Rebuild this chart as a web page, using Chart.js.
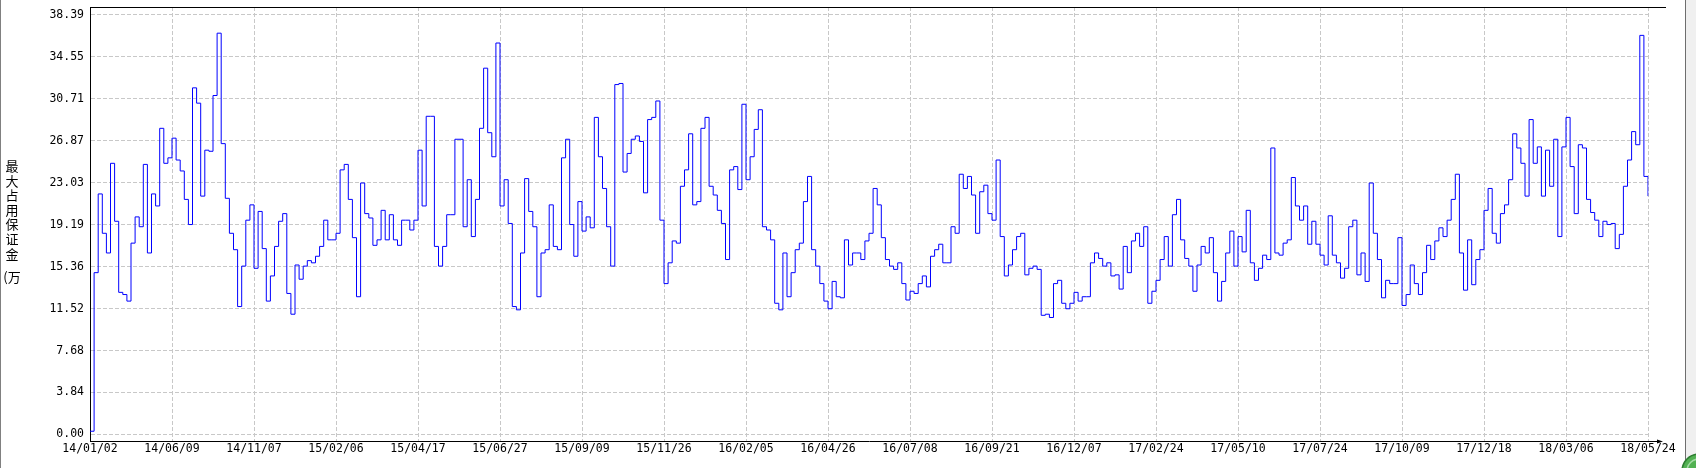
<!DOCTYPE html>
<html>
<head>
<meta charset="utf-8">
<script src="https://cdn.jsdelivr.net/npm/chart.js"></script>
<style>
html, body { margin: 0; padding: 0; background: #fff; }
#wrap { position: relative; width: 1696px; height: 468px; }
</style>
</head>
<body>
<div id="wrap"><canvas id="myLine"></canvas></div>
<script>
// x tick labels, one every 20 points
var xTickLabels = ['14/01/02', '14/06/09', '14/11/07', '15/02/06', '15/04/17', '15/06/27', '15/09/09',
    '15/11/26', '16/02/05', '16/04/26', '16/07/08', '16/09/21', '16/12/07', '17/02/24', '17/05/10',
    '17/07/24', '17/10/09', '17/12/18', '18/03/06', '18/05/24'];
var labelEvery = 20;

var yTickLabels = ['0.00', '3.84', '7.68', '11.52', '15.36', '19.19', '23.03', '26.87', '30.71', '34.55', '38.39'];

var yTitle = '最大占用保证金(万';

// max margin used (10k)
var margin = [
    0.3, 14.8, 22.0, 18.4, 16.6, 24.8, 19.5, 13.0, 12.8, 12.2,
    17.5, 19.9, 19.0, 24.7, 16.6, 22.0, 20.9, 28.0, 24.8, 25.3,
    27.1, 25.1, 24.1, 21.5, 19.2, 31.7, 30.3, 21.8, 26.0, 25.9,
    31.0, 36.7, 26.6, 21.6, 18.4, 16.9, 11.7, 15.4, 19.6, 21.0,
    15.2, 20.4, 17.0, 12.2, 14.5, 17.2, 19.5, 20.2, 12.9, 11.0,
    15.5, 14.2, 15.4, 15.9, 15.7, 16.3, 17.2, 19.6, 17.8, 17.8,
    18.4, 24.2, 24.7, 21.5,
    18.0, 12.6, 23.0, 20.2, 19.8, 17.3, 17.8, 20.5, 17.8, 20.1,
    17.8, 17.3, 19.6, 19.6, 18.7, 19.6, 26.0, 20.9, 29.1, 29.1,
    17.2, 15.4, 17.2, 20.1, 20.1, 27.0, 27.0, 19.0, 23.3, 18.1,
    21.5, 28.0, 33.5, 27.6, 25.4, 35.8, 20.9, 23.3, 19.3, 11.7,
    11.4, 16.6, 23.4, 20.4, 19.0, 12.6, 16.6, 16.9, 21.0, 17.2,
    16.9, 25.3, 27.0, 19.2, 16.3, 21.3, 18.6, 19.9, 18.9, 29.0,
    25.4, 22.5, 19.0, 15.4,
    32.0, 32.1, 24.0, 25.7, 27.0, 27.3, 26.8, 22.1, 28.8, 29.0,
    30.5, 19.6, 13.8, 15.7, 17.7, 17.5, 22.7, 24.2, 27.5, 21.0,
    21.3, 28.0, 29.0, 22.7, 21.9, 20.5, 19.3, 16.0, 24.2, 24.5,
    22.4, 30.2, 23.3, 25.4, 27.9, 29.7, 19.0, 18.7, 17.8, 12.0,
    11.4, 16.6, 12.6, 14.8, 16.9, 17.5, 21.3, 23.6, 16.9, 15.4,
    13.8, 12.2, 11.5, 14.0, 12.6, 12.5, 17.8, 15.5, 16.6, 16.6,
    16.0, 17.7, 18.4, 22.5,
    21.0, 18.0, 16.0, 15.4, 15.1, 15.7, 13.8, 12.3, 13.1, 12.9,
    13.8, 14.5, 13.5, 16.3, 16.9, 17.4, 15.7, 15.7, 19.0, 18.4,
    23.8, 22.5, 23.6, 21.9, 18.4, 22.2, 22.8, 20.2, 19.6, 25.1,
    18.1, 14.5, 15.5, 16.9, 18.1, 18.4, 14.6, 15.2, 15.4, 15.1,
    10.9, 11.0, 10.7, 13.8, 14.1, 12.0, 11.5, 12.0, 13.0, 12.2,
    12.6, 12.6, 15.7, 16.6, 16.1, 15.4, 15.7, 14.5, 14.6, 13.3,
    17.2, 14.8, 17.7, 18.4,
    17.2, 19.0, 12.0, 13.1, 14.1, 16.0, 18.1, 15.4, 20.1, 21.5,
    17.8, 16.1, 15.4, 13.1, 15.5, 17.2, 16.6, 18.0, 14.8, 12.2,
    14.0, 16.6, 18.6, 15.4, 18.1, 16.7, 20.5, 15.7, 14.1, 15.2,
    16.4, 16.0, 26.2, 16.6, 16.4, 17.5, 17.8, 23.5, 20.9, 19.6,
    20.9, 17.4, 19.5, 17.4, 16.4, 15.5, 20.0, 16.4, 15.7, 14.3,
    15.2, 19.0, 19.6, 14.6, 16.6, 14.0, 23.0, 18.4, 16.0, 12.5,
    14.1, 13.8, 13.8, 18.0,
    11.8, 12.8, 15.5, 13.8, 12.8, 14.8, 17.3, 16.0, 17.7, 18.9,
    18.1, 19.6, 21.5, 23.8, 16.6, 13.2, 17.8, 13.7, 16.0, 16.9,
    20.5, 22.5, 18.4, 17.5, 20.2, 21.0, 23.3, 27.5, 26.2, 24.8,
    21.8, 28.8, 24.8, 26.3, 21.8, 26.0, 22.7, 27.0, 18.1, 26.3,
    29.0, 24.5, 20.2, 26.5, 26.2, 21.5, 20.3, 19.6, 18.1, 19.5,
    19.2, 19.3, 17.0, 18.3, 22.7, 25.1, 27.7, 26.5, 36.5, 23.6,
    21.8
];

var pointIndex = margin.map(function (v, i) { return i; });

var monoFont = { family: '"DejaVu Sans Mono", monospace', size: 11.5 };

var frame = {
    id: 'frame',
    afterDraw: function (chart) {
        var ctx = chart.ctx;
        var a = chart.chartArea;
        ctx.save();
        // window edges
        ctx.fillStyle = '#808080';
        ctx.fillRect(0, 0, 1, 468);
        ctx.fillStyle = '#f0f0f0';
        ctx.fillRect(1686, 0, 10, 468);
        ctx.fillStyle = '#6e6e6e';
        ctx.fillRect(1685, 0, 1, 468);
        // green button in the corner
        ctx.beginPath();
        ctx.arc(1699, 471, 17, 0, Math.PI * 2);
        ctx.fillStyle = '#52b152';
        ctx.fill();
        ctx.lineWidth = 1.5;
        ctx.strokeStyle = '#2e7d32';
        ctx.stroke();
        ctx.beginPath();
        ctx.arc(1699, 471, 12, Math.PI, Math.PI * 1.5);
        ctx.strokeStyle = '#a5dca5';
        ctx.stroke();
        // top line and x axis arrow
        ctx.strokeStyle = '#000';
        ctx.lineWidth = 1;
        ctx.beginPath();
        ctx.moveTo(a.left, a.top + 0.5);
        ctx.lineTo(1666, a.top + 0.5);
        ctx.moveTo(a.right, a.bottom + 0.5);
        ctx.lineTo(1659, a.bottom + 0.5);
        ctx.stroke();
        ctx.fillStyle = '#000';
        ctx.beginPath();
        ctx.moveTo(1657, a.bottom - 1.5);
        ctx.lineTo(1663, a.bottom + 0.5);
        ctx.lineTo(1657, a.bottom + 2.5);
        ctx.closePath();
        ctx.fill();
        // vertical y title, characters stacked upright
        ctx.font = '13px "Noto Sans CJK SC"';
        ctx.textAlign = 'center';
        ctx.textBaseline = 'middle';
        var chars = Array.from(yTitle.slice(0, 7));
        chars.forEach(function (c, i) {
            ctx.fillText(c, 12, 166 + i * 14.6);
        });
        ctx.fillText(yTitle.slice(7), 12, 277);
        ctx.restore();
    }
};

new Chart(document.getElementById('myLine').getContext('2d'), {
    type: 'line',
    data: {
        labels: pointIndex,
        datasets: [{
            data: margin,
            borderColor: '#0000ff',
            borderWidth: 1,
            pointRadius: 0,
            stepped: true,
            fill: false
        }]
    },
    options: {
        responsive: true,
        maintainAspectRatio: false,
        animation: false,
        layout: { padding: { top: 7, right: 48, left: 0, bottom: 0 } },
        plugins: { legend: { display: false }, tooltip: { enabled: false } },
        scales: {
            x: {
                type: 'category',
                grid: { color: '#c8c8c8', drawTicks: false },
                border: { color: '#000', dash: [4, 2] },
                ticks: {
                    autoSkip: false, maxRotation: 0, minRotation: 0, padding: 1,
                    color: '#000', font: monoFont,
                    callback: function (v) { return xTickLabels[v / labelEvery]; }
                },
                afterBuildTicks: function (s) {
                    s.ticks = s.ticks.filter(function (t) { return t.value % labelEvery === 0; });
                },
                afterFit: function (s) { s.height = 27; }
            },
            y: {
                min: -0.594,
                max: 39.094,
                grid: { color: '#c8c8c8', drawTicks: false },
                border: { color: '#000', dash: [4, 2] },
                ticks: {
                    padding: 6, color: '#000', font: monoFont,
                    callback: function (v, i) { return yTickLabels[i]; }
                },
                afterBuildTicks: function (s) {
                    s.ticks = yTickLabels.map(function (l) { return { value: parseFloat(l) }; });
                },
                afterFit: function (s) { s.width = 90; s.paddingTop = 0; s.paddingBottom = 0; }
            }
        }
    },
    plugins: [frame]
});
</script>
</body>
</html>
